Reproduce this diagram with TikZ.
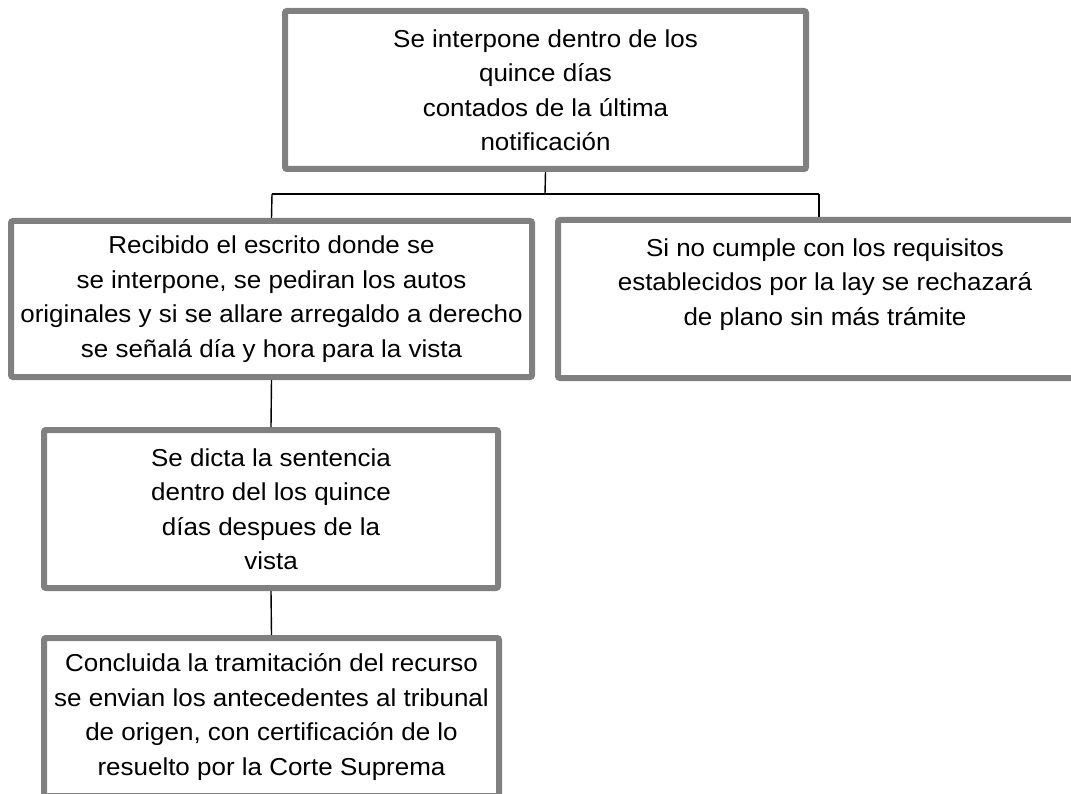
\documentclass[tikz,border=0pt]{standalone}
\usepackage{fontspec}
\setmainfont{Liberation Sans}[FakeStretch=1.06]
\begin{document}
\begin{tikzpicture}[x=1pt,y=-1pt,
  box/.style={draw=boxgray, line width=6pt, rounded corners=2pt, fill=white,
    align=center, inner sep=0pt, font=\fontsize{24.5}{34.5}\selectfont},
  conn/.style={draw=black, line width=1.4pt}]
\definecolor{boxgray}{HTML}{808080}
\useasboundingbox (0,0) rectangle (1071,794);
\node[box, minimum width=521pt, minimum height=158pt] (b1) at (545.5,90)
  {Se interpone dentro de los\\quince días\\contados de la última\\notificación};
\node[box, minimum width=521pt, minimum height=156pt] (b2) at (271.5,299)
  {Recibido el escrito donde se\\se interpone, se pediran los autos\\originales y si se allare arregaldo a derecho\\se señalá día y hora para la vista};
\node[box, minimum width=534pt, minimum height=158pt] (b3) at (825,299)
  {Si no cumple con los requisitos\\establecidos por la lay se rechazará\\de plano sin más trámite\\\mbox{}};
\node[box, minimum width=454pt, minimum height=158pt] (b4) at (271,509)
  {Se dicta la sentencia\\dentro del los quince\\días despues de la\\vista};
\node[box, minimum width=455pt, minimum height=158pt] (b5) at (271.5,717)
  {Concluida la tramitación del recurso\\se envian los antecedentes al tribunal\\de origen, con certificación de lo\\resuelto por la Corte Suprema};
\coordinate (j) at (545,194);
\coordinate (j2) at (272,194);
\coordinate (j3) at (819,194);
\draw[conn] (b1.south) -- (j);
\draw[conn] (j2) -- (j3);
\draw[conn] (j2) -- (b2.north);
\draw[conn] (j3) -- ([xshift=-6pt]b3.north);
\draw[conn] (b2.south) -- (b4.north);
\draw[conn] (b4.south) -- (b5.north);
\end{tikzpicture}
\end{document}
